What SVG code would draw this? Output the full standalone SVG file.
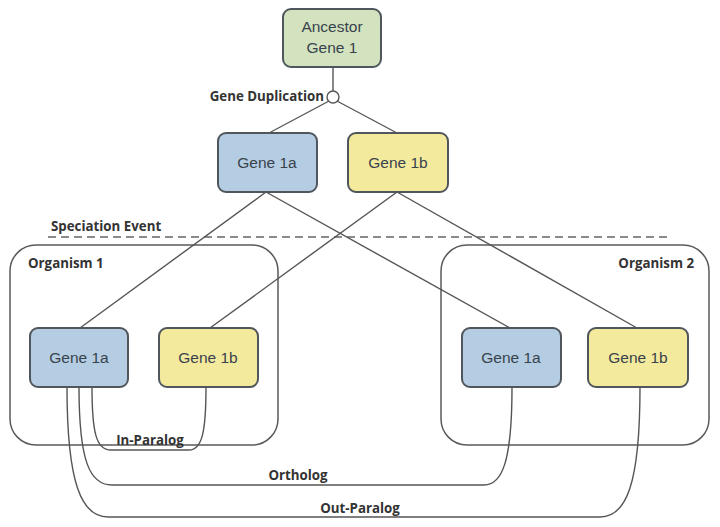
<svg xmlns="http://www.w3.org/2000/svg" width="720" height="527" viewBox="0 0 720 527">
<style>
.gene{stroke:#4f565c;stroke-width:2}
.blue{fill:#b5cde3}
.yellow{fill:#f4ea9e}
.green{fill:#d3e3c0}
.org{fill:none;stroke:#5a5a5a;stroke-width:1.5}
.t{font-family:"Liberation Sans",Arial,sans-serif;font-size:15.5px;fill:#38424c;text-anchor:middle}
.b{font-family:"Open Sans","Liberation Sans",sans-serif;font-weight:bold;font-size:13.3px;fill:#333}
.c{fill:none;stroke:#555;stroke-width:1.4}
</style>
<rect width="720" height="527" fill="#fff"/>
<g id="organism1"><rect class="org" x="10" y="245" width="268" height="200" rx="26"/><text class="b" x="28" y="268">Organism 1</text></g>
<g id="organism2"><rect class="org" x="441" y="245" width="268" height="200" rx="26"/><text class="b" x="694" y="268" text-anchor="end">Organism 2</text></g>
<g id="speciation"><line x1="48" y1="237" x2="668" y2="237" stroke="#666" stroke-width="1.5" stroke-dasharray="8,5"/><text class="b" x="51" y="231">Speciation Event</text></g>
<g id="connectors">
<line class="c" x1="333" y1="67" x2="333" y2="91"/>
<line class="c" x1="329" y1="101" x2="269" y2="133"/>
<line class="c" x1="337" y1="101" x2="397" y2="133"/>
<line class="c" x1="266" y1="192" x2="80" y2="328"/>
<line class="c" x1="266" y1="192" x2="510" y2="328"/>
<line class="c" x1="397" y1="192" x2="210" y2="328"/>
<line class="c" x1="397" y1="192" x2="637" y2="328"/>
<path class="c" d="M92,387 C92,432 96,450 111,450 L189,450 C202,450 206,432 206,387"/>
<path class="c" d="M79,387 C79,462 90,485 112,485 L484,485 C502,485 512,462 512,387"/>
<path class="c" d="M67,387 C67,485 82,517 108,517 L600,517 C626,517 640,485 640,387"/>
<text class="b" x="150" y="445" text-anchor="middle">In-Paralog</text>
<text class="b" x="298" y="480" text-anchor="middle">Ortholog</text>
<text class="b" x="360" y="513" text-anchor="middle">Out-Paralog</text>
</g>
<g id="duplication"><circle cx="333" cy="97" r="6" fill="#fff" stroke="#555" stroke-width="1.4"/><text class="b" x="324" y="101" text-anchor="end">Gene Duplication</text></g>
<g id="ancestor"><rect class="gene green" x="283" y="9" width="98" height="58" rx="8"/><text class="t" x="332" y="32">Ancestor</text><text class="t" x="332" y="53">Gene 1</text></g>
<g id="gene1a"><rect class="gene blue" x="218" y="133" width="99" height="59" rx="8"/><text class="t" x="267" y="168">Gene 1a</text></g>
<g id="gene1b"><rect class="gene yellow" x="348" y="133" width="100" height="59" rx="8"/><text class="t" x="398" y="168">Gene 1b</text></g>
<g id="org1_gene1a"><rect class="gene blue" x="30" y="328" width="98" height="59" rx="8"/><text class="t" x="79" y="363">Gene 1a</text></g>
<g id="org1_gene1b"><rect class="gene yellow" x="159" y="328" width="99" height="59" rx="8"/><text class="t" x="208" y="363">Gene 1b</text></g>
<g id="org2_gene1a"><rect class="gene blue" x="462" y="328" width="99" height="59" rx="8"/><text class="t" x="511" y="363">Gene 1a</text></g>
<g id="org2_gene1b"><rect class="gene yellow" x="588" y="328" width="100" height="59" rx="8"/><text class="t" x="638" y="363">Gene 1b</text></g>
</svg>
